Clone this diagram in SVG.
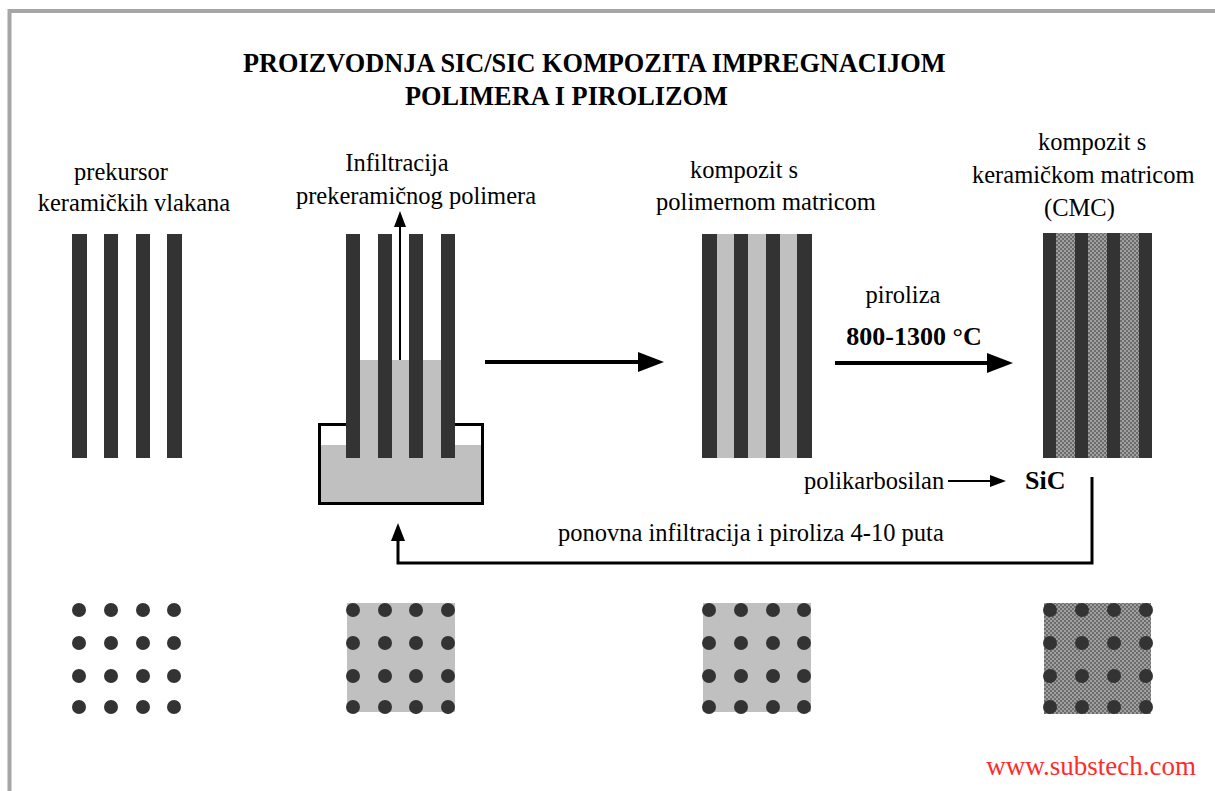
<svg xmlns="http://www.w3.org/2000/svg" width="1215" height="791" viewBox="0 0 1215 791">
<style>
.lbl{font-family:"Liberation Serif","Times New Roman",serif;font-size:24.5px;fill:#000}
.ttl{font-family:"Liberation Serif","Times New Roman",serif;font-size:26.3px;font-weight:bold;fill:#000}
.bld{font-family:"Liberation Serif","Times New Roman",serif;font-size:26px;font-weight:bold;fill:#000}
.mid{text-anchor:middle}
.fib{fill:#333}
.dot{fill:#333}
.poly{fill:#c0c0c0}
.cer{fill:url(#dots)}
.ln{fill:none;stroke:#000}
</style>
<defs>
<pattern id="dots" width="4" height="4" patternUnits="userSpaceOnUse">
<rect width="4" height="4" fill="#a0a0a0"/>
<circle cx="1" cy="1" r="0.7" fill="#111"/>
<circle cx="3" cy="3" r="0.7" fill="#111"/>
</pattern>
<marker id="big" markerUnits="userSpaceOnUse" markerWidth="26" markerHeight="20" refX="0" refY="10" orient="auto">
<path d="M0,0 L26,10 L0,20 z" fill="#000"/>
</marker>
<marker id="mid" markerUnits="userSpaceOnUse" markerWidth="18" markerHeight="14" refX="0" refY="7" orient="auto">
<path d="M0,0 L18,7 L0,14 z" fill="#000"/>
</marker>
<marker id="sm" markerUnits="userSpaceOnUse" markerWidth="16" markerHeight="12" refX="0" refY="6" orient="auto">
<path d="M0,0 L16,6 L0,12 z" fill="#000"/>
</marker>
</defs>
<rect width="1215" height="791" fill="#fff"/>
<rect x="9.5" y="11" width="1240" height="820" fill="none" stroke="#a6a6a6" stroke-width="4"/>

<g id="title">
<text class="ttl" x="243" y="72">PROIZVODNJA SIC/SIC KOMPOZITA IMPREGNACIJOM</text>
<text class="ttl" x="405" y="105">POLIMERA I PIROLIZOM</text>
</g>

<g id="n1-precursor">
<text class="lbl mid" x="121" y="180">prekursor</text>
<text class="lbl mid" x="134" y="211">keramičkih vlakana</text>
<rect class="fib" x="72" y="234" width="15" height="224"/>
<rect class="fib" x="104" y="234" width="14" height="224"/>
<rect class="fib" x="136" y="234" width="14" height="224"/>
<rect class="fib" x="167" y="234" width="15" height="224"/>
</g>

<g id="n2-infiltration">
<text class="lbl mid" x="397" y="171">Infiltracija</text>
<text class="lbl mid" x="416" y="204">prekeramičnog polimera</text>
<rect x="319.5" y="424.5" width="163" height="79" fill="#fff" stroke="#000" stroke-width="3"/>
<rect class="poly" x="321" y="445" width="160" height="57"/>
<rect class="poly" x="346" y="360" width="109" height="90"/>
<rect class="fib" x="346" y="234" width="14" height="224"/>
<rect class="fib" x="378" y="234" width="14" height="224"/>
<rect class="fib" x="409" y="234" width="14" height="224"/>
<rect class="fib" x="441" y="234" width="14" height="224"/>
</g>

<g id="n3-pmc">
<text class="lbl mid" x="744" y="178">kompozit s</text>
<text class="lbl mid" x="766" y="210">polimernom matricom</text>
<rect class="poly" x="702" y="234" width="110" height="224"/>
<rect class="fib" x="702" y="234" width="15" height="224"/>
<rect class="fib" x="734" y="234" width="14" height="224"/>
<rect class="fib" x="766" y="234" width="14" height="224"/>
<rect class="fib" x="797" y="234" width="15" height="224"/>
</g>

<g id="n4-cmc">
<text class="lbl" x="1038" y="150">kompozit s</text>
<text class="lbl" x="972" y="183">keramičkom matricom</text>
<text class="lbl" x="1044" y="216">(CMC)</text>
<rect class="cer" x="1043" y="233" width="109" height="225"/>
<rect class="fib" x="1043" y="233" width="13" height="225"/>
<rect class="fib" x="1075" y="233" width="13" height="225"/>
<rect class="fib" x="1107" y="233" width="13" height="225"/>
<rect class="fib" x="1139" y="233" width="13" height="225"/>
</g>

<g id="n5-reaction">
<text class="lbl" x="804" y="489">polikarbosilan</text>
<text class="bld" x="1025" y="489">SiC</text>
</g>

<g id="n6-pyrolysis-label">
<text class="lbl mid" x="903" y="303">piroliza</text>
<text class="bld mid" x="914" y="345">800-1300 °C</text>
</g>

<g id="n7-repeat-label">
<text class="lbl" x="558" y="541">ponovna infiltracija i piroliza 4-10 puta</text>
</g>

<g id="connectors">
<line class="ln" x1="400" y1="360" x2="400" y2="227" stroke-width="2" marker-end="url(#sm)"/>
<line class="ln" x1="485" y1="362" x2="638" y2="362" stroke-width="4" marker-end="url(#big)"/>
<line class="ln" x1="835" y1="363" x2="987" y2="363" stroke-width="4" marker-end="url(#big)"/>
<line class="ln" x1="948" y1="481" x2="990" y2="481" stroke-width="2" marker-end="url(#sm)"/>
<polyline class="ln" points="1092,477 1092,563 398,563 398,541" stroke-width="3" marker-end="url(#mid)"/>
</g>

<g id="cross-sections">
<g id="cs1">
<circle class="dot" cx="79" cy="610" r="7"/><circle class="dot" cx="111" cy="610" r="7"/><circle class="dot" cx="143" cy="610" r="7"/><circle class="dot" cx="174" cy="610" r="7"/>
<circle class="dot" cx="79" cy="643" r="7"/><circle class="dot" cx="111" cy="643" r="7"/><circle class="dot" cx="143" cy="643" r="7"/><circle class="dot" cx="174" cy="643" r="7"/>
<circle class="dot" cx="79" cy="676" r="7"/><circle class="dot" cx="111" cy="676" r="7"/><circle class="dot" cx="143" cy="676" r="7"/><circle class="dot" cx="174" cy="676" r="7"/>
<circle class="dot" cx="79" cy="707" r="7"/><circle class="dot" cx="111" cy="707" r="7"/><circle class="dot" cx="143" cy="707" r="7"/><circle class="dot" cx="174" cy="707" r="7"/>
</g>
<g id="cs2">
<rect class="poly" x="347" y="603" width="108" height="109"/>
<circle class="dot" cx="353" cy="610" r="7"/><circle class="dot" cx="385" cy="610" r="7"/><circle class="dot" cx="416" cy="610" r="7"/><circle class="dot" cx="448" cy="610" r="7"/>
<circle class="dot" cx="353" cy="643" r="7"/><circle class="dot" cx="385" cy="643" r="7"/><circle class="dot" cx="416" cy="643" r="7"/><circle class="dot" cx="448" cy="643" r="7"/>
<circle class="dot" cx="353" cy="676" r="7"/><circle class="dot" cx="385" cy="676" r="7"/><circle class="dot" cx="416" cy="676" r="7"/><circle class="dot" cx="448" cy="676" r="7"/>
<circle class="dot" cx="353" cy="707" r="7"/><circle class="dot" cx="385" cy="707" r="7"/><circle class="dot" cx="416" cy="707" r="7"/><circle class="dot" cx="448" cy="707" r="7"/>
</g>
<g id="cs3">
<rect class="poly" x="703" y="603" width="108" height="109"/>
<circle class="dot" cx="709" cy="610" r="7"/><circle class="dot" cx="741" cy="610" r="7"/><circle class="dot" cx="773" cy="610" r="7"/><circle class="dot" cx="804" cy="610" r="7"/>
<circle class="dot" cx="709" cy="643" r="7"/><circle class="dot" cx="741" cy="643" r="7"/><circle class="dot" cx="773" cy="643" r="7"/><circle class="dot" cx="804" cy="643" r="7"/>
<circle class="dot" cx="709" cy="676" r="7"/><circle class="dot" cx="741" cy="676" r="7"/><circle class="dot" cx="773" cy="676" r="7"/><circle class="dot" cx="804" cy="676" r="7"/>
<circle class="dot" cx="709" cy="707" r="7"/><circle class="dot" cx="741" cy="707" r="7"/><circle class="dot" cx="773" cy="707" r="7"/><circle class="dot" cx="804" cy="707" r="7"/>
</g>
<g id="cs4">
<rect class="cer" x="1044" y="603" width="107" height="111"/>
<circle class="dot" cx="1050" cy="610" r="7"/><circle class="dot" cx="1082" cy="610" r="7"/><circle class="dot" cx="1114" cy="610" r="7"/><circle class="dot" cx="1146" cy="610" r="7"/>
<circle class="dot" cx="1050" cy="643" r="7"/><circle class="dot" cx="1082" cy="643" r="7"/><circle class="dot" cx="1114" cy="643" r="7"/><circle class="dot" cx="1146" cy="643" r="7"/>
<circle class="dot" cx="1050" cy="676" r="7"/><circle class="dot" cx="1082" cy="676" r="7"/><circle class="dot" cx="1114" cy="676" r="7"/><circle class="dot" cx="1146" cy="676" r="7"/>
<circle class="dot" cx="1050" cy="707" r="7"/><circle class="dot" cx="1082" cy="707" r="7"/><circle class="dot" cx="1114" cy="707" r="7"/><circle class="dot" cx="1146" cy="707" r="7"/>
</g>
</g>

<g id="watermark">
<text class="lbl" x="1196" y="775" text-anchor="end" style="fill:#ff2a2a;font-size:27px">www.substech.com</text>
</g>
</svg>
